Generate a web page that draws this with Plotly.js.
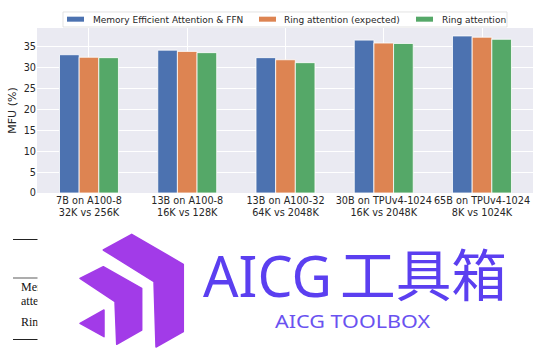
<!DOCTYPE html>
<html>
<head>
<meta charset="utf-8">
<script src="https://cdn.plot.ly/plotly-3.0.1.min.js"></script>
<style>
  html, body { margin: 0; padding: 0; background: #fff; }
  #wrap { position: relative; width: 554px; height: 355px; overflow: hidden; }
  #chart { position: absolute; left: 0; top: 0; width: 554px; height: 355px; }
  #overlay { position: absolute; left: 0; top: 0; pointer-events: none; }
</style>
</head>
<body>
<div id="wrap">
  <div id="chart"></div>
  <svg id="overlay" width="554" height="355" xmlns="http://www.w3.org/2000/svg">
    <!-- partial table behind the watermark -->
    <line x1="13" y1="239.5" x2="38" y2="239.5" stroke="#222" stroke-width="1"/>
    <line x1="13" y1="278" x2="38" y2="278" stroke="#999" stroke-width="1.6"/>
    <line x1="13" y1="339.5" x2="38" y2="339.5" stroke="#222" stroke-width="1"/>
    <text x="21" y="291" font-family="Liberation Serif" font-size="12" fill="#111">Memory efficient</text>
    <text x="21" y="305" font-family="Liberation Serif" font-size="12" fill="#111">attention</text>
    <text x="21" y="326" font-family="Liberation Serif" font-size="12" fill="#111">Ring attention</text>
    <rect x="37.5" y="222" width="517" height="133" fill="#fff"/>
    <!-- logo -->
    <g fill="#a23be8" stroke="#a23be8" stroke-width="1.5" stroke-linejoin="round">
      <polygon points="103.3,250 131.7,234.3 183.3,264.3 183.3,331.7 156,347 154,281.7"/>
      <polygon points="80,278.3 103.3,266.7 141.7,288.3 141.7,330 116.7,344.3 115,301.7"/>
      <polygon points="80,323.3 104,310 104,336.7"/>
    </g>
    <text x="203" y="297" font-family="Noto Sans" font-size="56" fill="#5b3ff0" textLength="129" lengthAdjust="spacingAndGlyphs">AICG</text>
    <text x="340" y="296" font-family="Noto Sans CJK SC" font-size="56" fill="#5b3ff0" textLength="167" lengthAdjust="spacingAndGlyphs">工具箱</text>
    <text x="275" y="328" font-family="Noto Sans" font-size="18" fill="#6a52f0" textLength="155" lengthAdjust="spacingAndGlyphs">AICG TOOLBOX</text>
  </svg>
</div>
<script>
const categories = [
  "7B on A100-8<br>32K vs 256K",
  "13B on A100-8<br>16K vs 128K",
  "13B on A100-32<br>64K vs 2048K",
  "30B on TPUv4-1024<br>16K vs 2048K",
  "65B on TPUv4-1024<br>8K vs 1024K"
];
const seriesNames = ["Memory Efficient Attention & FFN", "Ring attention (expected)", "Ring attention"];
const memEffValues = [33.1, 34.2, 32.4, 36.6, 37.6];
const ringExpectedValues = [32.5, 33.9, 31.9, 35.9, 37.3];
const ringValues = [32.4, 33.6, 31.2, 35.8, 36.8];
const seriesColors = ["#4c72b0", "#dd8452", "#55a868"];
const yTicks = [0, 5, 10, 15, 20, 25, 30, 35];

const seriesValues = [memEffValues, ringExpectedValues, ringValues];
const traces = seriesValues.map((vals, i) => ({
  type: "bar",
  name: seriesNames[i],
  x: categories,
  y: vals,
  marker: { color: seriesColors[i], line: { color: "#ffffff", width: 0.8 } },
  hoverinfo: "x+y+name",
  showlegend: false
}));

// plot-area geometry (pixels) used to place the custom legend
const W = 554, H = 355;
const M = { l: 37, r: 21, t: 28, b: 162.3 };
const pw = W - M.l - M.r, ph = H - M.t - M.b;
const px = x => (x - M.l) / pw;
const py = y => (H - M.b - y) / ph;

const legendBox = { x0: 63, x1: 507, y0: 12, y1: 27 };
const patchX = [[67, 84], [259, 276], [416, 433]];
const labelX = [92, 283, 441];
const patchY = [16.7, 21.7];
const labelY = 19.6;

const shapes = [{
  type: "rect", xref: "paper", yref: "paper",
  x0: px(legendBox.x0), x1: px(legendBox.x1), y0: py(legendBox.y1), y1: py(legendBox.y0),
  fillcolor: "#ffffff", line: { color: "#dcdcdc", width: 0.8 }
}];
const annotations = [];
seriesNames.forEach((name, i) => {
  shapes.push({
    type: "rect", xref: "paper", yref: "paper",
    x0: px(patchX[i][0]), x1: px(patchX[i][1]), y0: py(patchY[1]), y1: py(patchY[0]),
    fillcolor: seriesColors[i], line: { width: 0 }
  });
  annotations.push({
    xref: "paper", yref: "paper", x: px(labelX[i] - 1), y: py(labelY),
    xanchor: "left", yanchor: "middle", showarrow: false, text: name,
    font: { family: "DejaVu Sans", size: 9, color: "#262626" }
  });
});

const font = { family: "DejaVu Sans", size: 9.7, color: "#262626" };
const layout = {
  width: W,
  height: H,
  margin: M,
  paper_bgcolor: "#ffffff",
  plot_bgcolor: "#eaeaf2",
  font: font,
  barmode: "group",
  bargap: 0.4,
  bargroupgap: 0,
  showlegend: false,
  shapes: shapes,
  annotations: annotations,
  xaxis: {
    type: "category",
    range: [-0.529, 4.519],
    showgrid: true,
    gridcolor: "#ffffff",
    gridwidth: 1,
    zeroline: false,
    showline: false,
    ticks: "",
    tickfont: font,
    fixedrange: true
  },
  yaxis: {
    range: [0, 39.5],
    tickvals: yTicks,
    ticktext: yTicks.map(String),
    showgrid: true,
    gridcolor: "#ffffff",
    gridwidth: 1,
    zeroline: false,
    showline: false,
    ticks: "",
    tickfont: font,
    title: { text: "MFU (%)", font: { family: "DejaVu Sans", size: 11, color: "#262626" }, standoff: 4 },
    fixedrange: true
  }
};

Plotly.newPlot("chart", traces, layout, { displayModeBar: false, staticPlot: true });
</script>
</body>
</html>
